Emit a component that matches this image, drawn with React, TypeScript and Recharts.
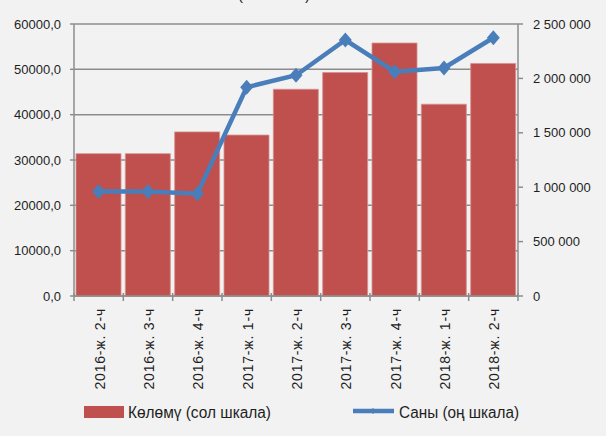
import React from 'react';
import { ComposedChart, Bar, Line, XAxis, YAxis, CartesianGrid, Legend } from 'recharts';

const categories = ['2016-ж. 2-ч', '2016-ж. 3-ч', '2016-ж. 4-ч', '2017-ж. 1-ч', '2017-ж. 2-ч', '2017-ж. 3-ч', '2017-ж. 4-ч', '2018-ж. 1-ч', '2018-ж. 2-ч'];
const volume = [31400, 31400, 36200, 35500, 45600, 49300, 55800, 42300, 51300];
const count = [961000, 961000, 940000, 1919000, 2029000, 2353000, 2062000, 2096000, 2374000];
const leftTicks = [0, 10000, 20000, 30000, 40000, 50000, 60000];
const rightTicks = [0, 500000, 1000000, 1500000, 2000000, 2500000];
const legendLabels = ['Көлөмү (сол шкала)', 'Саны (оң шкала)'];
const titleText = '(млн. сом)';

const data = categories.map((c, i) => ({ cat: c, volume: volume[i], count: count[i] }));

const BAR = '#c0504d';
const LINE = '#4a7ebb';
const AXIS = '#8c8c8c';
const TEXT = '#1e1e1e';
const FONT = '"Liberation Sans", Arial, sans-serif';

const fmtLeft = (v: number) => v.toFixed(1).replace('.', ',');
const fmtRight = (v: number) => String(v).replace(/\B(?=(\d{3})+(?!\d))/g, ' ');

const XTick = (props: any) => {
  const { x, y, payload, index, visibleTicksCount, width } = props;
  const band = width / visibleTicksCount;
  return (
    <g>
      <line x1={x - band / 2} x2={x - band / 2} y1={y - 9} y2={y - 1} stroke={AXIS} strokeWidth={1.5} />
      {index === visibleTicksCount - 1 && (
        <line x1={x + band / 2} x2={x + band / 2} y1={y - 9} y2={y - 1} stroke={AXIS} strokeWidth={1.5} />
      )}
      <text
        transform={`translate(${x + 6},${y + 6}) rotate(-90)`}
        textAnchor="end"
        fontSize={14}
        letterSpacing={0.8}
        fill={TEXT}
        fontFamily={FONT}
      >
        {payload.value}
      </text>
    </g>
  );
};

const Diamond = (props: any) => {
  const { cx, cy } = props;
  if (cx == null || cy == null) return null;
  return <polygon points={`${cx},${cy - 7.5} ${cx + 6.5},${cy} ${cx},${cy + 7.5} ${cx - 6.5},${cy}`} fill={LINE} />;
};

const LegendContent = () => (
  <svg width={606} height={34} style={{ display: 'block' }}>
    <rect x={84} y={10} width={40} height={12} fill={BAR} />
    <text x={128} y={22} fontSize={16} fill={TEXT} fontFamily={FONT} textLength={143} lengthAdjust="spacingAndGlyphs">
      {legendLabels[0]}
    </text>
    <line x1={353} x2={394} y1={15} y2={15} stroke={LINE} strokeWidth={4.5} />
    <polygon points="373,12 376,15 373,18 370,15" fill={LINE} />
    <text x={399} y={22} fontSize={16} fill={TEXT} fontFamily={FONT} textLength={120} lengthAdjust="spacingAndGlyphs">
      {legendLabels[1]}
    </text>
  </svg>
);

export default function App() {
  return (
    <div style={{ position: 'absolute', left: 0, top: 0, width: 606, height: 436, background: '#f2f2f2', overflow: 'hidden' }}>
      <svg width={606} height={10} style={{ position: 'absolute', left: 0, top: 0 }}>
        <text x={274} y={0} textAnchor="middle" fontSize={15} fill={TEXT} fontFamily={FONT}>{titleText}</text>
      </svg>
      <ComposedChart
        width={606}
        height={436}
        data={data}
        margin={{ top: 24, right: 0, bottom: 40, left: 0 }}
        barCategoryGap={2}
        style={{ fontFamily: FONT }}
      >
        <CartesianGrid yAxisId="left" vertical={false} stroke={AXIS} strokeWidth={1.5} />
        <XAxis
          dataKey="cat"
          height={100}
          interval={0}
          tickLine={false}
          tickSize={6}
          tickMargin={0}
          axisLine={{ stroke: AXIS, strokeWidth: 1.5 }}
          tick={<XTick />}
        />
        <YAxis
          yAxisId="left"
          domain={[0, 60000]}
          ticks={leftTicks}
          interval={0}
          width={74}
          tickFormatter={fmtLeft}
          tickSize={4}
          tickMargin={9}
          axisLine={{ stroke: AXIS, strokeWidth: 1.5 }}
          tickLine={{ stroke: AXIS, strokeWidth: 1.5 }}
          tick={{ fontSize: 13, fill: TEXT, fontFamily: FONT }}
        />
        <YAxis
          yAxisId="right"
          orientation="right"
          domain={[0, 2500000]}
          ticks={rightTicks}
          interval={0}
          width={88}
          tickFormatter={fmtRight}
          tickSize={5}
          tickMargin={10}
          axisLine={{ stroke: AXIS, strokeWidth: 1.5 }}
          tickLine={{ stroke: AXIS, strokeWidth: 1.5 }}
          tick={{ fontSize: 13, fill: TEXT, fontFamily: FONT, textAnchor: 'start' }}
        />
        <Bar yAxisId="left" dataKey="volume" fill={BAR} stroke="#d6918f" strokeWidth={0.8} isAnimationActive={false} />
        <Line
          yAxisId="right"
          dataKey="count"
          stroke={LINE}
          strokeWidth={4.5}
          dot={<Diamond />}
          activeDot={false}
          isAnimationActive={false}
        />
        <Legend
          verticalAlign="middle"
          align="center"
          wrapperStyle={{ position: 'absolute', left: 0, top: 396, width: 606, height: 34 }}
          content={<LegendContent />}
        />
      </ComposedChart>
    </div>
  );
}
